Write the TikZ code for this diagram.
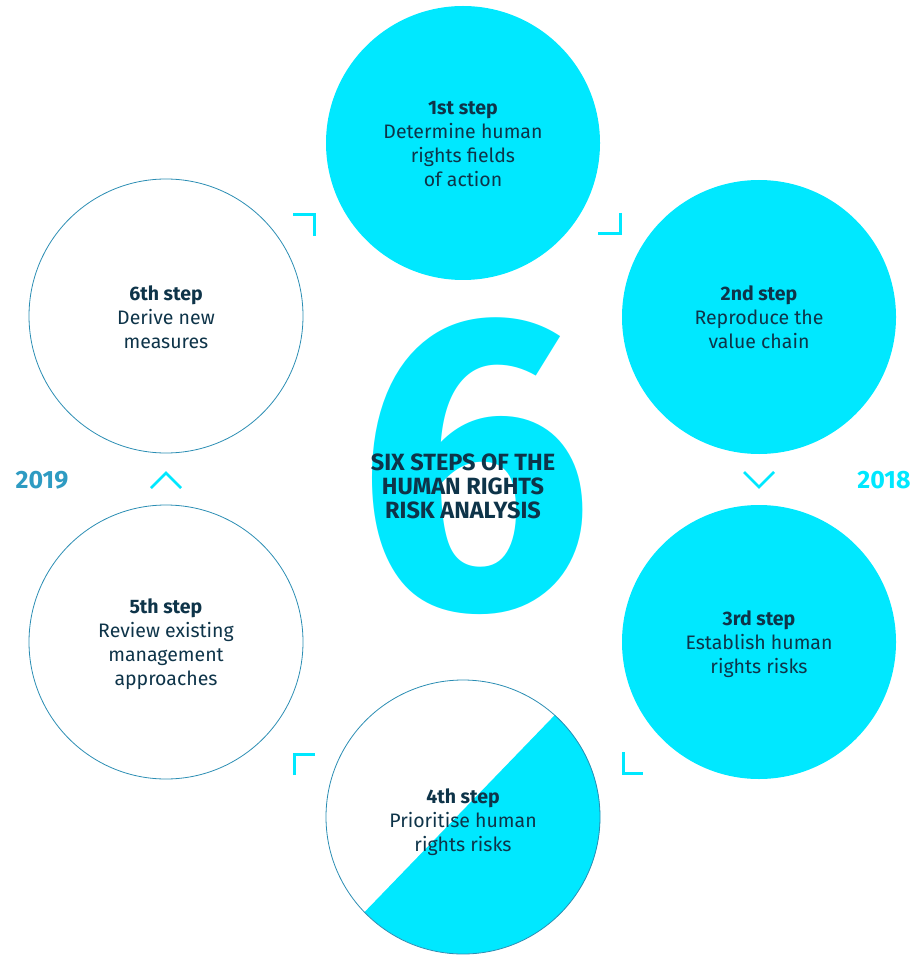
\documentclass[tikz,border=0pt]{standalone}
\usepackage{fontspec}
\setmainfont{Fira Sans}
\definecolor{cy}{HTML}{00E8FF}
\definecolor{outc}{HTML}{2B8DB3}
\definecolor{yrc}{HTML}{2E9BC2}
\definecolor{txt}{HTML}{0E3449}
\begin{document}
\begin{tikzpicture}[x=1pt,y=-1pt,
  stepc/.style={circle, minimum size=274pt, inner sep=0pt},
  filledc/.style={stepc, fill=cy},
  outlc/.style={stepc, draw=outc, line width=0.8pt},
  lbl/.style={align=center, text=txt, inner sep=0pt, font=\fontsize{19.5}{24}\selectfont},
  brk/.style={draw=cy, line width=3pt},
  chev/.style={draw=cy, line width=2.6pt},
  yr/.style={inner sep=0pt, font=\fontsize{25}{26}\selectfont\bfseries}
]
\path[use as bounding box] (0,0) rectangle (912,957);

% big six and title
\node[text=cy, font=\fontsize{420}{420}\selectfont\bfseries, inner sep=0pt] (six) at (475,466) {6};
\node[text=txt, align=center, font=\fontsize{23.5}{24}\selectfont\bfseries, inner sep=0pt] (title) at (463,486) {SIX STEPS OF THE\\HUMAN RIGHTS\\RISK ANALYSIS};

% circles
\node[stepc] (c4) at (463,817) {};
\fill[cy] (c4.48) arc[start angle=48, end angle=-136, radius=137pt] -- cycle;
\node[outlc] (s4) at (463,817) {};
\node[filledc] (s1) at (463,143) {};
\node[filledc] (s2) at (759,317) {};
\node[filledc] (s3) at (759,642) {};
\node[outlc] (s5) at (166,642) {};
\node[outlc] (s6) at (166,316) {};

% labels
\node[lbl] (l1) at (463,144) {\textbf{1st step}\\Determine human\\rights fields\\of action};
\node[lbl] (l2) at (759,317) {\textbf{2nd step}\\Reproduce the\\value chain};
\node[lbl] (l3) at (759,644) {\textbf{3rd step}\\Establish human\\rights risks};
\node[lbl] (l4) at (463,822) {\textbf{4th step}\\Prioritise human\\rights risks};
\node[lbl] (l5) at (166,644) {\textbf{5th step}\\Review existing\\management\\approaches};
\node[lbl] (l6) at (166,317) {\textbf{6th step}\\Derive new\\measures};

% corner brackets
\coordinate (b1a) at (293,215); \coordinate (b1b) at (314,215); \coordinate (b1c) at (314,236);
\draw[brk] (b1a) -- (b1b) -- (b1c);
\coordinate (b2a) at (620,213); \coordinate (b2b) at (620,234); \coordinate (b2c) at (598,234);
\draw[brk] (b2a) -- (b2b) -- (b2c);
\coordinate (b3a) at (294,775); \coordinate (b3b) at (294,754); \coordinate (b3c) at (315,754);
\draw[brk] (b3a) -- (b3b) -- (b3c);
\coordinate (b4a) at (623,752); \coordinate (b4b) at (623,773); \coordinate (b4c) at (643,773);
\draw[brk] (b4a) -- (b4b) -- (b4c);

% chevrons
\coordinate (d1) at (744,472); \coordinate (d2) at (759,487); \coordinate (d3) at (774,472);
\draw[chev] (d1) -- (d2) -- (d3);
\coordinate (u1) at (151,488); \coordinate (u2) at (166,473); \coordinate (u3) at (181,488);
\draw[chev] (u1) -- (u2) -- (u3);

% years
\node[yr, text=yrc] (y19) at (42,480) {2019};
\node[yr, text=cy] (y18) at (884,480) {2018};
\end{tikzpicture}
\end{document}
